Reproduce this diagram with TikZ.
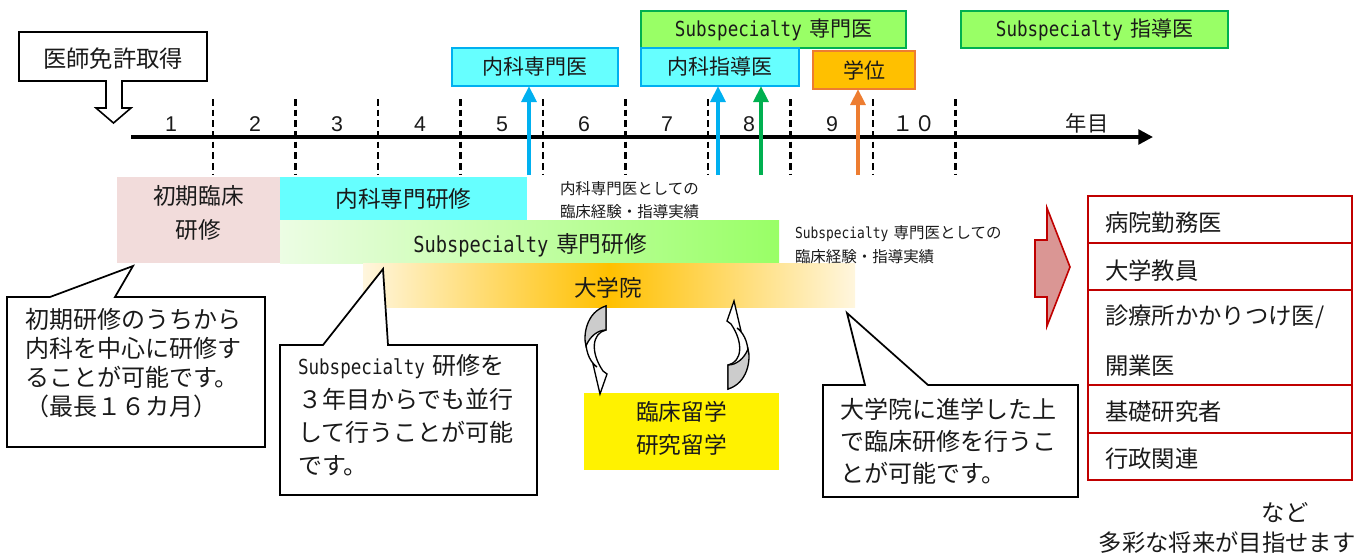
\documentclass[tikz,border=0pt]{standalone}
\usepackage{fontspec}
\setmainfont{Noto Sans CJK JP}
\newfontfamily\monof[FakeStretch=0.85]{DejaVu Sans Mono}
\newfontfamily\numf{Liberation Sans}
\usetikzlibrary{arrows.meta}
\definecolor{cyanF}{HTML}{66FFFF}
\definecolor{blueB}{HTML}{00B0F0}
\definecolor{greenF}{HTML}{99FF66}
\definecolor{greenB}{HTML}{00B050}
\definecolor{orangeF}{HTML}{FFC000}
\definecolor{orangeB}{HTML}{ED7D31}
\definecolor{pinkF}{HTML}{F2DCDB}
\definecolor{redB}{HTML}{C00000}
\definecolor{redF}{HTML}{DA9694}
\definecolor{lightG}{RGB}{236,253,228}
\definecolor{lightO}{RGB}{255,246,222}
\definecolor{txt}{HTML}{1A1A1A}
\newcommand\myfs[2]{\fontsize{#1pt}{#2pt}\selectfont}
\newcommand\subsp[1]{{\monof\fontsize{#1pt}{#1pt}\selectfont Subspecialty\hspace{0.35em}}}
\begin{document}
\begin{tikzpicture}[x=0.75pt,y=-0.75pt,
  every node/.style={inner sep=0pt, outer sep=0pt, text=txt},
  sz/.style 2 args={minimum width=#1*0.75pt, minimum height=#2*0.75pt},
  topbox/.style={draw, line width=1.3pt},
  dashline/.style={line width=1.6pt, dash pattern=on 5pt off 3pt},
  uparr/.style={line width=3pt, -{Triangle[length=12pt,width=11pt]}},
  callout/.style={draw=black, fill=white, line width=1.3pt, line join=miter},
  lblfont/.style={font=\myfs{15.75}{18}},
  barfont/.style={font=\myfs{17}{25.5}},
  notefont/.style={font=\myfs{11.6}{14}},
  bigfont/.style={font=\myfs{17.5}{20}},
  numfont/.style={font=\numf\myfs{16}{18}},
  pics/curvarr/.style={code={
    \filldraw[fill=white, line width=1pt] (8,-20) .. controls (-6,-17) and (-8,2) .. (5,21) -- (9,24) -- (2,44) -- (-5,14) -- (-1,17) .. controls (-18,5) and (-16,-34) .. (8,-44) -- cycle;
    \filldraw[fill=gray!40, line width=1pt] (8,-44) .. controls (-12,-38) and (-15,-14) .. (-12,-4) .. controls (-8,-14) and (0,-20) .. (8,-20) -- cycle;
  }}
]
\useasboundingbox (0,0) rectangle (1364,557);

% --- license box with hollow arrow
\draw[line width=1.2pt, fill=white] (19,32) -- (207,32) -- (207,81) -- (122,81) -- (122,108) -- (131,108) -- (113.5,123) -- (96,108) -- (106,108) -- (106,81) -- (19,81) -- cycle;
\node[bigfont] (menkyo) at (113,59) {医師免許取得};

% --- timeline
\foreach \x in {213,295.5,378,460.5,543,625.5,708,790.5,873,955.5}
  \draw[dashline] (\x,99) -- (\x,175);
\coordinate (axS) at (131,137);
\coordinate (axE) at (1153,137);
\draw[line width=2.6pt, -{Triangle[length=11pt,width=11pt]}] (axS) -- (axE);
\foreach \n/\x in {1/171,2/255,3/337,4/420,5/502,6/584,7/667,8/749,9/832}
  \node[numfont] (y\n) at (\x,124) {\n};
\node[font=\myfs{16}{18}] (y10) at (914,124) {１０};
\node[font=\myfs{16}{18}] (nenme) at (1087,123) {年目};

% --- top boxes
\node[topbox, draw=blueB, fill=cyanF, sz={166}{38}, lblfont] (naikasenmon) at (535,67) {内科専門医};
\node[topbox, draw=greenB, fill=greenF, sz={265}{37}, lblfont] (subsenmon) at (773.5,29.5) {\subsp{15.5}専門医};
\node[topbox, draw=blueB, fill=cyanF, sz={158}{38}, lblfont] (naikashido) at (720,67) {内科指導医};
\node[topbox, draw=orangeB, fill=orangeF, sz={102}{38}, lblfont] (gakui) at (864,70) {学位};
\node[topbox, draw=greenB, fill=greenF, sz={267}{37}, lblfont] (subshido) at (1094.5,29.5) {\subsp{15.5}指導医};

% --- up arrows
\coordinate (u1) at (529,175);
\coordinate (u2) at (718,175);
\coordinate (u3) at (761,175);
\coordinate (u4) at (858,175);
\draw[uparr, blueB] (u1) -- (u1 |- naikasenmon.south);
\draw[uparr, blueB] (u2) -- (u2 |- naikashido.south);
\draw[uparr, greenB] (u3) -- (u3 |- naikashido.south);
\draw[uparr, orangeB] (u4) -- (u4 |- gakui.south);

% --- bars
\node[fill=pinkF, sz={163}{86}] (shoki) at (198.5,220) {};
\node[barfont, align=center] (shokit) at (198.5,213) {初期臨床\\研修};
\node[fill=cyanF, sz={247}{43}, barfont] (naikaken) at (403.5,198.5) {内科専門研修};
\node[left color=lightG, right color=greenF, sz={499}{43}] (subken) at (529.5,241.5) {};
\node[barfont] (subkent) at (530,245) {\subsp{16.5}専門研修};
\node[left color=lightO, right color=lightO, middle color=orangeF, sz={492}{44}] (daigaku) at (609,285) {};
\node[barfont] (daigakut) at (608,288) {大学院};

% --- notes
\node[anchor=west, notefont] (n1a) at (560,189) {内科専門医としての};
\node[anchor=west, notefont] (n1b) at (560,212) {臨床経験・指導実績};
\node[anchor=west, notefont] (n2a) at (795,234) {\subsp{11.4}専門医としての};
\node[anchor=west, notefont] (n2b) at (795,257) {臨床経験・指導実績};

% --- study abroad
\node[fill=yellow, sz={195}{77}] (ryugaku) at (681.5,431.5) {};
\node[barfont, align=center, font=\myfs{17}{24.75}] (ryugakut) at (681.5,428) {臨床留学\\研究留学};
\pic at (598,350) {curvarr};
\pic[rotate=180] at (736,345) {curvarr};

% --- callouts
\draw[callout] (7,297) -- (50,297) -- (133,266) -- (115,297) -- (265,297) -- (265,447) -- (7,447) -- cycle;
\node[anchor=west, align=left, font=\myfs{18}{21.75}] (c1) at (25,363) {初期研修のうちから\\内科を中心に研修す\\ることが可能です。\\（最長１６カ月）};
\draw[callout] (280,345) -- (323,345) -- (383,269) -- (388,345) -- (537,345) -- (537,495) -- (280,495) -- cycle;
\node[anchor=west, align=left, font=\myfs{18}{25}] (c2) at (298,415.5) {\subsp{15.5}研修を\\３年目からでも並行\\して行うことが可能\\です。};
\draw[callout] (823,385) -- (865,385) -- (847,313) -- (928,385) -- (1078,385) -- (1078,497) -- (823,497) -- cycle;
\node[anchor=west, align=left, font=\myfs{18}{24}] (c3) at (840,441) {大学院に進学した上\\で臨床研修を行うこ\\とが可能です。};

% --- red arrow
\filldraw[draw=redB, fill=redF, line width=1.2pt, line join=miter] (1035,240) -- (1047,240) -- (1047,208) -- (1070,267) -- (1047,326) -- (1047,297) -- (1035,297) -- cycle;

% --- careers table
\foreach \nm/\yc/\h in {r1/219.5/47, r2/266.5/47, r3/337.5/95, r4/409/48, r5/456.5/47}
  \node[draw=redB, line width=1.2pt, sz={264}{\h}] (\nm) at (1220,\yc) {};
\node[anchor=west, bigfont] (k1) at (1105,223) {病院勤務医};
\node[anchor=west, bigfont] (k2) at (1105,271) {大学教員};
\node[anchor=west, bigfont] (k3) at (1105,317) {診療所かかりつけ医/};
\node[anchor=west, bigfont] (k4) at (1105,366) {開業医};
\node[anchor=west, bigfont] (k5) at (1105,412) {基礎研究者};
\node[anchor=west, bigfont] (k6) at (1105,459) {行政関連};
\node[bigfont] (nado) at (1285,513) {など};
\node[bigfont] (tasai) at (1227,543) {多彩な将来が目指せます};
\end{tikzpicture}
\end{document}
